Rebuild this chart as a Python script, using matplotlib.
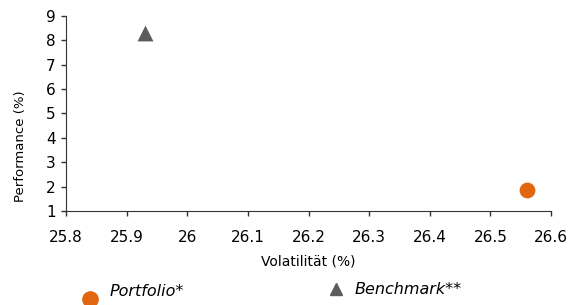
import matplotlib.pyplot as plt
from matplotlib.lines import Line2D

plt.rcParams['font.family'] = ['DejaVu Sans']

# Data
names = ['Portfolio*', 'Benchmark**']
volatility = [26.56, 25.93]
performance = [1.87, 8.3]
colors = ['#e0670f', '#5c5c5c']
markers = ['o', '^']

x_ticks = [25.8, 25.9, 26, 26.1, 26.2, 26.3, 26.4, 26.5, 26.6]
x_labels = ['25.8', '25.9', '26', '26.1', '26.2', '26.3', '26.4', '26.5', '26.6']
y_ticks = [1, 2, 3, 4, 5, 6, 7, 8, 9]

fig = plt.figure(figsize=(5.71, 3.05), dpi=100)
ax = fig.add_axes([66 / 571, 1 - 211 / 305, 485 / 571, 195 / 305])

for i in range(len(names)):
    ax.scatter(volatility[i], performance[i], s=130, marker=markers[i],
               color=colors[i], zorder=3, clip_on=False, linewidths=0)

ax.set_xlim(25.8, 26.6)
ax.set_ylim(1, 9)
ax.set_xticks(x_ticks)
ax.set_xticklabels(x_labels)
ax.set_yticks(y_ticks)
ax.tick_params(labelsize=11, length=3.5, width=1, color='#333333')
ax.tick_params(axis='x', pad=10)
ax.tick_params(axis='y', pad=4)
for s in ['top', 'right']:
    ax.spines[s].set_visible(False)
for s in ['left', 'bottom']:
    ax.spines[s].set_color('#333333')

ax.set_xlabel('Volatilität (%)', fontsize=10, labelpad=7)
ax.set_ylabel('Performance (%)', fontsize=9.5)
ax.yaxis.set_label_coords(-0.081, 0.33)

# Legend below the chart
fig.add_artist(Line2D([90 / 571], [1 - 299 / 305], marker='o', markersize=11,
                      color=colors[0], linestyle='none'))
fig.text(110 / 571, 1 - 291 / 305, names[0], fontsize=11.5, style='italic',
         va='center', ha='left')
fig.add_artist(Line2D([336 / 571], [1 - 289 / 305], marker='^', markersize=9,
                      color=colors[1], linestyle='none'))
fig.text(355 / 571, 1 - 290 / 305, names[1], fontsize=11.5, style='italic',
         va='center', ha='left')

fig.savefig('out.png', dpi=100)
